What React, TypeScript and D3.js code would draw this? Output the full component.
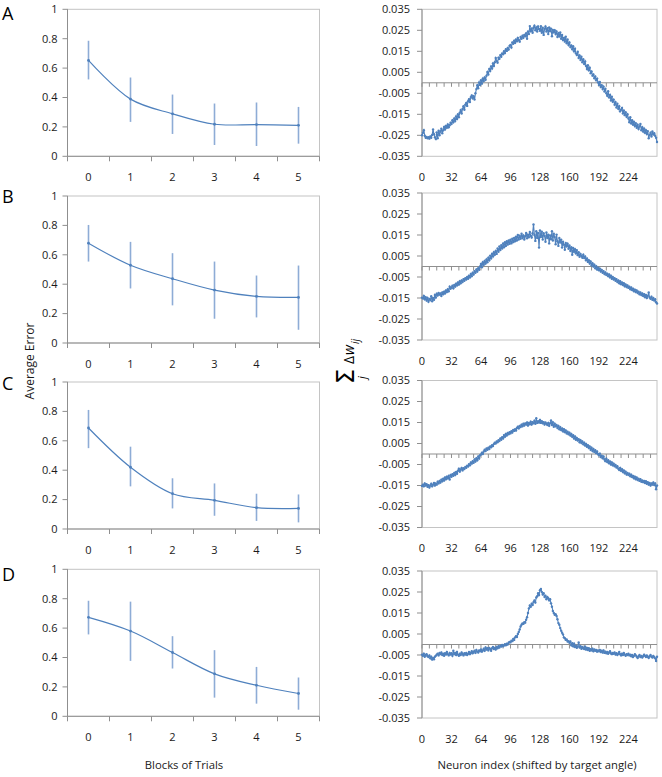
import React from 'react';
import * as d3 from 'd3';

// ---------- Left column: Average Error per block of trials ----------
const blocks = ['0', '1', '2', '3', '4', '5'];
const leftYTicks = [0, 0.2, 0.4, 0.6, 0.8, 1];

const errMeanA = [0.652, 0.389, 0.289, 0.218, 0.216, 0.211];
const errHiA = [0.786, 0.536, 0.42, 0.359, 0.366, 0.336];
const errLoA = [0.523, 0.234, 0.152, 0.077, 0.07, 0.086];

const errMeanB = [0.679, 0.529, 0.437, 0.36, 0.317, 0.31];
const errHiB = [0.803, 0.688, 0.611, 0.554, 0.459, 0.527];
const errLoB = [0.554, 0.371, 0.256, 0.165, 0.174, 0.09];

const errMeanC = [0.687, 0.42, 0.24, 0.195, 0.145, 0.14];
const errHiC = [0.81, 0.56, 0.345, 0.31, 0.24, 0.235];
const errLoC = [0.55, 0.29, 0.14, 0.09, 0.055, 0.045];

const errMeanD = [0.673, 0.58, 0.434, 0.289, 0.211, 0.155];
const errHiD = [0.786, 0.78, 0.545, 0.45, 0.336, 0.264];
const errLoD = [0.557, 0.377, 0.325, 0.127, 0.086, 0.045];

// ---------- Right column: sum of weight changes per neuron ----------
const neuronLabels = [0, 32, 64, 96, 128, 160, 192, 224];
const rightYTicks = [0.035, 0.025, 0.015, 0.005, -0.005, -0.015, -0.025, -0.035];

const dwA = [
  -0.0250, -0.0238, -0.0226, -0.0252, -0.0262, -0.0258, -0.0264, -0.0259, -0.0266, -0.0255, -0.0262, -0.0248, -0.0222, -0.0245, -0.0260, -0.0268,
  -0.0236, -0.0264, -0.0228, -0.0250, -0.0232, -0.0218, -0.0240, -0.0226, -0.0210, -0.0222, -0.0205, -0.0214, -0.0198, -0.0212, -0.0202, -0.0190,
  -0.0196, -0.0178, -0.0188, -0.0170, -0.0182, -0.0160, -0.0172, -0.0150, -0.0164, -0.0142, -0.0130, -0.0146, -0.0124, -0.0112, -0.0128, -0.0104,
  -0.0096, -0.0110, -0.0088, -0.0078, -0.0092, -0.0068, -0.0060, -0.0074, -0.0064, -0.0080, -0.0050, -0.0030, -0.0012, -0.0026, 0.0002, -0.0010,
  0.0012, -0.0004, 0.0020, 0.0008, 0.0026, 0.0014, 0.0034, 0.0052, 0.0040, 0.0066, 0.0056, 0.0078, 0.0068, 0.0092, 0.0080, 0.0098,
  0.0118, 0.0104, 0.0096, 0.0120, 0.0114, 0.0132, 0.0124, 0.0140, 0.0136, 0.0150, 0.0142, 0.0160, 0.0152, 0.0166, 0.0158, 0.0176,
  0.0180, 0.0168, 0.0192, 0.0186, 0.0200, 0.0190, 0.0206, 0.0198, 0.0214, 0.0204, 0.0196, 0.0218, 0.0210, 0.0224, 0.0214, 0.0228,
  0.0222, 0.0236, 0.0210, 0.0244, 0.0232, 0.0270, 0.0246, 0.0258, 0.0238, 0.0262, 0.0272, 0.0250, 0.0264, 0.0244, 0.0268, 0.0256,
  0.0248, 0.0270, 0.0238, 0.0262, 0.0228, 0.0256, 0.0268, 0.0244, 0.0260, 0.0232, 0.0264, 0.0246, 0.0258, 0.0222, 0.0252, 0.0240,
  0.0250, 0.0232, 0.0244, 0.0218, 0.0236, 0.0222, 0.0240, 0.0210, 0.0228, 0.0204, 0.0214, 0.0196, 0.0220, 0.0188, 0.0206, 0.0180,
  0.0192, 0.0170, 0.0178, 0.0160, 0.0174, 0.0150, 0.0162, 0.0140, 0.0132, 0.0148, 0.0118, 0.0130, 0.0108, 0.0124, 0.0098, 0.0112,
  0.0090, 0.0102, 0.0080, 0.0066, 0.0084, 0.0060, 0.0072, 0.0046, 0.0054, 0.0034, 0.0040, 0.0022, 0.0030, 0.0012, 0.0020, 0.0002,
  -0.0010, 0.0004, -0.0020, -0.0012, -0.0030, -0.0018, -0.0042, -0.0028, -0.0050, -0.0062, -0.0040, -0.0070, -0.0058, -0.0084, -0.0066, -0.0090,
  -0.0080, -0.0104, -0.0092, -0.0118, -0.0100, -0.0124, -0.0112, -0.0136, -0.0128, -0.0120, -0.0146, -0.0132, -0.0154, -0.0140, -0.0162, -0.0150,
  -0.0170, -0.0188, -0.0164, -0.0194, -0.0178, -0.0200, -0.0186, -0.0206, -0.0192, -0.0214, -0.0200, -0.0220, -0.0208, -0.0196, -0.0226, -0.0212,
  -0.0232, -0.0218, -0.0238, -0.0226, -0.0244, -0.0230, -0.0264, -0.0248, -0.0238, -0.0256, -0.0232, -0.0246, -0.0240, -0.0252, -0.0262, -0.0282,
];

const dwB = [
  -0.0148, -0.0152, -0.0140, -0.0156, -0.0146, -0.0162, -0.0150, -0.0168, -0.0154, -0.0160, -0.0142, -0.0166, -0.0150, -0.0158, -0.0136, -0.0148,
  -0.0130, -0.0138, -0.0126, -0.0134, -0.0128, -0.0140, -0.0124, -0.0132, -0.0120, -0.0128, -0.0114, -0.0122, -0.0108, -0.0118, -0.0096, -0.0106,
  -0.0100, -0.0092, -0.0104, -0.0088, -0.0096, -0.0082, -0.0090, -0.0076, -0.0086, -0.0070, -0.0080, -0.0066, -0.0074, -0.0060, -0.0068, -0.0056,
  -0.0062, -0.0050, -0.0058, -0.0044, -0.0052, -0.0036, -0.0046, -0.0030, -0.0038, -0.0022, -0.0030, -0.0014, -0.0024, -0.0008, -0.0016, 0.0000,
  0.0012, -0.0004, 0.0020, 0.0008, 0.0026, 0.0014, 0.0034, 0.0020, 0.0042, 0.0030, 0.0052, 0.0038, 0.0060, 0.0048, 0.0068, 0.0056,
  0.0074, 0.0060, 0.0086, 0.0070, 0.0096, 0.0078, 0.0102, 0.0086, 0.0110, 0.0092, 0.0116, 0.0098, 0.0120, 0.0104, 0.0124, 0.0108,
  0.0128, 0.0110, 0.0132, 0.0116, 0.0136, 0.0120, 0.0142, 0.0124, 0.0150, 0.0128, 0.0146, 0.0132, 0.0156, 0.0136, 0.0148, 0.0128,
  0.0144, 0.0160, 0.0134, 0.0152, 0.0140, 0.0164, 0.0146, 0.0138, 0.0158, 0.0200, 0.0150, 0.0122, 0.0168, 0.0136, 0.0160, 0.0090,
  0.0172, 0.0140, 0.0166, 0.0128, 0.0158, 0.0146, 0.0118, 0.0162, 0.0136, 0.0152, 0.0110, 0.0148, 0.0130, 0.0168, 0.0124, 0.0156,
  0.0140, 0.0106, 0.0152, 0.0120, 0.0098, 0.0136, 0.0114, 0.0128, 0.0090, 0.0118, 0.0104, 0.0080, 0.0112, 0.0096, 0.0108, 0.0084,
  0.0100, 0.0074, 0.0092, 0.0056, 0.0088, 0.0070, 0.0082, 0.0062, 0.0078, 0.0054, 0.0068, 0.0046, 0.0060, 0.0050, 0.0042, 0.0056,
  0.0040, 0.0048, 0.0030, 0.0038, 0.0022, 0.0030, 0.0014, 0.0024, 0.0006, 0.0016, 0.0000, 0.0008, -0.0008, 0.0002, -0.0014, -0.0006,
  -0.0018, -0.0010, -0.0024, -0.0016, -0.0030, -0.0022, -0.0036, -0.0028, -0.0040, -0.0034, -0.0046, -0.0038, -0.0052, -0.0044, -0.0058, -0.0050,
  -0.0062, -0.0056, -0.0068, -0.0060, -0.0074, -0.0066, -0.0080, -0.0070, -0.0084, -0.0076, -0.0088, -0.0080, -0.0094, -0.0086, -0.0098, -0.0090,
  -0.0102, -0.0096, -0.0108, -0.0100, -0.0112, -0.0106, -0.0118, -0.0110, -0.0122, -0.0114, -0.0126, -0.0120, -0.0132, -0.0124, -0.0136, -0.0128,
  -0.0140, -0.0132, -0.0146, -0.0136, -0.0150, -0.0140, -0.0124, -0.0148, -0.0154, -0.0144, -0.0158, -0.0150, -0.0162, -0.0156, -0.0170, -0.0176,
];

const dwC = [
  -0.0152, -0.0146, -0.0154, -0.0140, -0.0150, -0.0144, -0.0156, -0.0148, -0.0160, -0.0150, -0.0142, -0.0154, -0.0146, -0.0138, -0.0150, -0.0140,
  -0.0146, -0.0132, -0.0140, -0.0128, -0.0136, -0.0122, -0.0130, -0.0118, -0.0126, -0.0112, -0.0120, -0.0108, -0.0116, -0.0104, -0.0122, -0.0100,
  -0.0108, -0.0096, -0.0104, -0.0090, -0.0100, -0.0086, -0.0094, -0.0080, -0.0070, -0.0084, -0.0074, -0.0066, -0.0078, -0.0068, -0.0072, -0.0062,
  -0.0066, -0.0056, -0.0060, -0.0048, -0.0054, -0.0040, -0.0046, -0.0034, -0.0042, -0.0026, -0.0036, -0.0020, -0.0030, -0.0012, -0.0022, -0.0006,
  -0.0002, 0.0006, 0.0000, 0.0012, 0.0020, 0.0014, 0.0026, 0.0020, 0.0030, 0.0024, 0.0036, 0.0032, 0.0042, 0.0038, 0.0048, 0.0054,
  0.0050, 0.0060, 0.0056, 0.0066, 0.0062, 0.0074, 0.0068, 0.0080, 0.0074, 0.0090, 0.0082, 0.0096, 0.0088, 0.0100, 0.0094, 0.0104,
  0.0098, 0.0108, 0.0102, 0.0114, 0.0110, 0.0118, 0.0112, 0.0124, 0.0130, 0.0122, 0.0134, 0.0128, 0.0140, 0.0132, 0.0144, 0.0136,
  0.0146, 0.0140, 0.0150, 0.0136, 0.0148, 0.0142, 0.0154, 0.0140, 0.0152, 0.0146, 0.0158, 0.0144, 0.0170, 0.0148, 0.0156, 0.0150,
  0.0162, 0.0148, 0.0156, 0.0146, 0.0152, 0.0140, 0.0150, 0.0144, 0.0138, 0.0148, 0.0134, 0.0146, 0.0160, 0.0138, 0.0152, 0.0130,
  0.0144, 0.0132, 0.0138, 0.0124, 0.0134, 0.0118, 0.0128, 0.0114, 0.0122, 0.0108, 0.0118, 0.0104, 0.0112, 0.0098, 0.0106, 0.0094,
  0.0102, 0.0088, 0.0096, 0.0082, 0.0090, 0.0074, 0.0084, 0.0068, 0.0076, 0.0064, 0.0070, 0.0056, 0.0066, 0.0052, 0.0060, 0.0046,
  0.0054, 0.0040, 0.0048, 0.0034, 0.0042, 0.0028, 0.0036, 0.0020, 0.0030, 0.0014, 0.0024, 0.0010, 0.0018, 0.0004, 0.0012, 0.0000,
  -0.0006, 0.0002, -0.0014, -0.0008, -0.0020, -0.0012, -0.0026, -0.0034, -0.0022, -0.0038, -0.0030, -0.0044, -0.0036, -0.0050, -0.0040, -0.0054,
  -0.0046, -0.0058, -0.0052, -0.0064, -0.0058, -0.0070, -0.0076, -0.0066, -0.0080, -0.0072, -0.0086, -0.0078, -0.0092, -0.0084, -0.0098, -0.0090,
  -0.0100, -0.0094, -0.0106, -0.0098, -0.0110, -0.0104, -0.0116, -0.0108, -0.0120, -0.0112, -0.0124, -0.0118, -0.0128, -0.0120, -0.0132, -0.0126,
  -0.0134, -0.0128, -0.0138, -0.0130, -0.0142, -0.0134, -0.0146, -0.0138, -0.0150, -0.0140, -0.0146, -0.0136, -0.0148, -0.0140, -0.0168, -0.0150,
];

const dwD = [
  -0.0048, -0.0054, -0.0044, -0.0058, -0.0050, -0.0046, -0.0056, -0.0060, -0.0052, -0.0066, -0.0058, -0.0072, -0.0064, -0.0070, -0.0058, -0.0054,
  -0.0048, -0.0044, -0.0052, -0.0040, -0.0046, -0.0038, -0.0050, -0.0044, -0.0054, -0.0042, -0.0048, -0.0036, -0.0046, -0.0052, -0.0040, -0.0048,
  -0.0042, -0.0054, -0.0030, -0.0046, -0.0040, -0.0050, -0.0036, -0.0048, -0.0054, -0.0044, -0.0050, -0.0038, -0.0046, -0.0052, -0.0042, -0.0048,
  -0.0040, -0.0050, -0.0044, -0.0036, -0.0046, -0.0040, -0.0032, -0.0042, -0.0036, -0.0030, -0.0040, -0.0026, -0.0034, -0.0038, -0.0028, -0.0032,
  -0.0024, -0.0034, -0.0028, -0.0020, -0.0030, -0.0014, -0.0024, -0.0018, -0.0028, -0.0016, -0.0022, -0.0030, -0.0018, -0.0012, -0.0022, -0.0016,
  -0.0024, -0.0012, -0.0018, -0.0008, -0.0014, -0.0006, -0.0010, -0.0002, -0.0008, -0.0004, 0.0002, -0.0004, 0.0004, 0.0000, 0.0008, 0.0012,
  0.0010, 0.0018, 0.0016, 0.0026, 0.0022, 0.0034, 0.0040, 0.0036, 0.0050, 0.0060, 0.0072, 0.0086, 0.0094, 0.0100, 0.0098, 0.0106,
  0.0104, 0.0118, 0.0130, 0.0150, 0.0172, 0.0186, 0.0180, 0.0194, 0.0188, 0.0202, 0.0210, 0.0200, 0.0224, 0.0230, 0.0244, 0.0236,
  0.0258, 0.0264, 0.0250, 0.0238, 0.0244, 0.0226, 0.0232, 0.0216, 0.0226, 0.0220, 0.0210, 0.0216, 0.0196, 0.0180, 0.0160, 0.0150,
  0.0142, 0.0144, 0.0136, 0.0120, 0.0102, 0.0094, 0.0078, 0.0066, 0.0056, 0.0048, 0.0034, 0.0030, 0.0022, 0.0024, 0.0014, 0.0016,
  0.0008, 0.0014, -0.0004, 0.0006, -0.0008, 0.0004, -0.0012, -0.0006, -0.0016, -0.0010, 0.0010, -0.0014, -0.0008, -0.0020, -0.0012, -0.0018,
  -0.0022, -0.0010, -0.0024, -0.0016, -0.0026, -0.0018, -0.0030, -0.0022, -0.0028, -0.0020, -0.0032, -0.0024, -0.0030, -0.0026, -0.0034, -0.0028,
  -0.0032, -0.0026, -0.0036, -0.0030, -0.0038, -0.0028, -0.0040, -0.0034, -0.0042, -0.0036, -0.0044, -0.0038, -0.0032, -0.0042, -0.0046, -0.0040,
  -0.0044, -0.0038, -0.0048, -0.0042, -0.0050, -0.0044, -0.0036, -0.0046, -0.0052, -0.0044, -0.0050, -0.0040, -0.0048, -0.0054, -0.0046, -0.0050,
  -0.0044, -0.0052, -0.0048, -0.0056, -0.0050, -0.0060, -0.0054, -0.0046, -0.0052, -0.0058, -0.0064, -0.0056, -0.0050, -0.0060, -0.0054, -0.0062,
  -0.0056, -0.0048, -0.0054, -0.0060, -0.0052, -0.0058, -0.0064, -0.0056, -0.0050, -0.0058, -0.0062, -0.0054, -0.0060, -0.0066, -0.0078, -0.0058,
];

const panelLetters = ['A', 'B', 'C', 'D'];

// ---------- layout & style ----------
const W = 662;
const H = 777;
const PLOT_H = 147;
const LEFT_X0 = 67.5;
const LEFT_X1 = 319.5;
const RIGHT_X0 = 422;
const RIGHT_X1 = 657;
const leftTops = [9.3, 196, 382, 569.3];
const rightTops = [9.3, 193, 380.5, 571];
const letterBaselines = [20, 203, 390, 581];
const FONT = "'Open Sans', 'DejaVu Sans', sans-serif";
const BLUE = '#4f81bd';
const AXIS = '#8f8f8f';
const BORDER = '#c4c4c4';
const TEXT = '#1a1a1a';

const leftSeries = [
  { mean: errMeanA, hi: errHiA, lo: errLoA },
  { mean: errMeanB, hi: errHiB, lo: errLoB },
  { mean: errMeanC, hi: errHiC, lo: errLoC },
  { mean: errMeanD, hi: errHiD, lo: errLoD },
];
const rightSeries = [dwA, dwB, dwC, dwD];

function fmtRight(v: number) {
  const s = Math.abs(v).toFixed(3);
  return v < 0 ? '-' + s : s;
}

function LeftPanel({ top, mean, hi, lo }: { top: number; mean: number[]; hi: number[]; lo: number[] }) {
  const x = d3.scaleBand<string>().domain(blocks).range([LEFT_X0, LEFT_X1]);
  const y = d3.scaleLinear().domain([0, 1]).range([top + PLOT_H, top]);
  const cx = (i: number) => (x(blocks[i]) as number) + x.bandwidth() / 2;
  const line = d3
    .line<number>()
    .x((_, i) => cx(i))
    .y((d) => y(d))
    .curve(d3.curveCatmullRom.alpha(0.5));
  const y0 = y(0);
  const boundaries = d3.range(blocks.length + 1).map((i) => LEFT_X0 + i * x.step());
  return (
    <g>
      <rect x={LEFT_X0} y={top} width={LEFT_X1 - LEFT_X0} height={PLOT_H} fill="none" stroke={BORDER} strokeWidth={1} />
      <line x1={LEFT_X0} x2={LEFT_X0} y1={top} y2={y0} stroke={AXIS} />
      <line x1={LEFT_X0} x2={LEFT_X1} y1={y0} y2={y0} stroke={AXIS} />
      {leftYTicks.map((t) => (
        <g key={t}>
          <line x1={LEFT_X0 - 5} x2={LEFT_X0} y1={y(t)} y2={y(t)} stroke={AXIS} />
          <text x={LEFT_X0 - 10} y={y(t)} dy="0.35em" textAnchor="end" fontSize={11} fill={TEXT}>
            {String(t)}
          </text>
        </g>
      ))}
      {boundaries.map((b, i) => (
        <line key={i} x1={b} x2={b} y1={y0} y2={y0 + 5} stroke={AXIS} />
      ))}
      {blocks.map((b, i) => (
        <text key={b} x={cx(i)} y={y0 + 21} dy="0.35em" textAnchor="middle" fontSize={11} fill={TEXT}>
          {b}
        </text>
      ))}
      {mean.map((_, i) => (
        <line key={i} x1={cx(i)} x2={cx(i)} y1={y(hi[i])} y2={y(lo[i])} stroke="#8eacd6" strokeWidth={1.6} />
      ))}
      <path d={line(mean) || ''} fill="none" stroke={BLUE} strokeWidth={1.2} />
      {mean.map((d, i) => (
        <circle key={i} cx={cx(i)} cy={y(d)} r={1.4} fill={BLUE} />
      ))}
    </g>
  );
}

function RightPanel({ top, values }: { top: number; values: number[] }) {
  const x = d3.scaleLinear().domain([0, values.length - 1]).range([RIGHT_X0, RIGHT_X1]);
  const y = d3.scaleLinear().domain([-0.035, 0.035]).range([top + PLOT_H, top]);
  const line = d3
    .line<number>()
    .x((_, i) => x(i))
    .y((d) => y(d));
  const yz = y(0);
  const minorTicks = d3.range(0, values.length, 8);
  return (
    <g>
      <rect x={RIGHT_X0} y={top} width={RIGHT_X1 - RIGHT_X0} height={PLOT_H} fill="none" stroke={BORDER} strokeWidth={1} />
      <line x1={RIGHT_X0} x2={RIGHT_X0} y1={top} y2={top + PLOT_H} stroke={AXIS} />
      <line x1={RIGHT_X0} x2={RIGHT_X1} y1={yz} y2={yz} stroke={AXIS} />
      {minorTicks.map((t) => (
        <line key={t} x1={x(t)} x2={x(t)} y1={yz} y2={yz + 4} stroke={AXIS} />
      ))}
      {rightYTicks.map((t) => (
        <g key={t}>
          <line x1={RIGHT_X0 - 5} x2={RIGHT_X0} y1={y(t)} y2={y(t)} stroke={AXIS} />
          <text x={RIGHT_X0 - 12} y={y(t)} dy="0.35em" textAnchor="end" fontSize={11} fill={TEXT}>
            {fmtRight(t)}
          </text>
        </g>
      ))}
      {neuronLabels.map((n) => (
        <text key={n} x={x(n)} y={top + PLOT_H + 21} dy="0.35em" textAnchor="middle" fontSize={11} fill={TEXT}>
          {n}
        </text>
      ))}
      <path d={line(values) || ''} fill="none" stroke={BLUE} strokeWidth={1.1} />
      {values.map((d, i) => (
        <circle key={i} cx={x(i)} cy={y(d)} r={1.2} fill={BLUE} />
      ))}
    </g>
  );
}

export default function App() {
  return (
    <svg
      width={W}
      height={H}
      viewBox={`0 0 ${W} ${H}`}
      style={{ position: 'absolute', left: 0, top: 0, background: '#fff' }}
      fontFamily={FONT}
    >
      <rect x={0} y={0} width={W} height={H} fill="#fff" />
      {leftSeries.map((s, k) => (
        <LeftPanel key={k} top={leftTops[k]} mean={s.mean} hi={s.hi} lo={s.lo} />
      ))}
      {rightSeries.map((v, k) => (
        <RightPanel key={k} top={rightTops[k]} values={v} />
      ))}
      {panelLetters.map((l, k) => (
        <text key={l} x={2} y={letterBaselines[k]} fontSize={18} fill="#000">
          {l}
        </text>
      ))}
      <text transform="translate(34,361) rotate(-90)" textAnchor="middle" fontSize={12} fill={TEXT}>
        Average Error
      </text>
      <g transform="translate(354,384) rotate(-90)" fill="#000">
        <text x={0} y={0} fontSize={24} fontFamily="'DejaVu Sans', sans-serif">Σ</text>
        <text x={5} y={12} fontSize={11} fontStyle="italic">j</text>
        <text x={20} y={0} fontSize={14}>Δ</text>
        <text x={29} y={0} fontSize={14} fontStyle="italic">w</text>
        <text x={40} y={5} fontSize={10} fontStyle="italic">ij</text>
      </g>
      <text x={184} y={769} textAnchor="middle" fontSize={11.3} fill={TEXT}>
        Blocks of Trials
      </text>
      <text x={537} y={769} textAnchor="middle" fontSize={11.3} fill={TEXT}>
        Neuron index (shifted by target angle)
      </text>
    </svg>
  );
}
